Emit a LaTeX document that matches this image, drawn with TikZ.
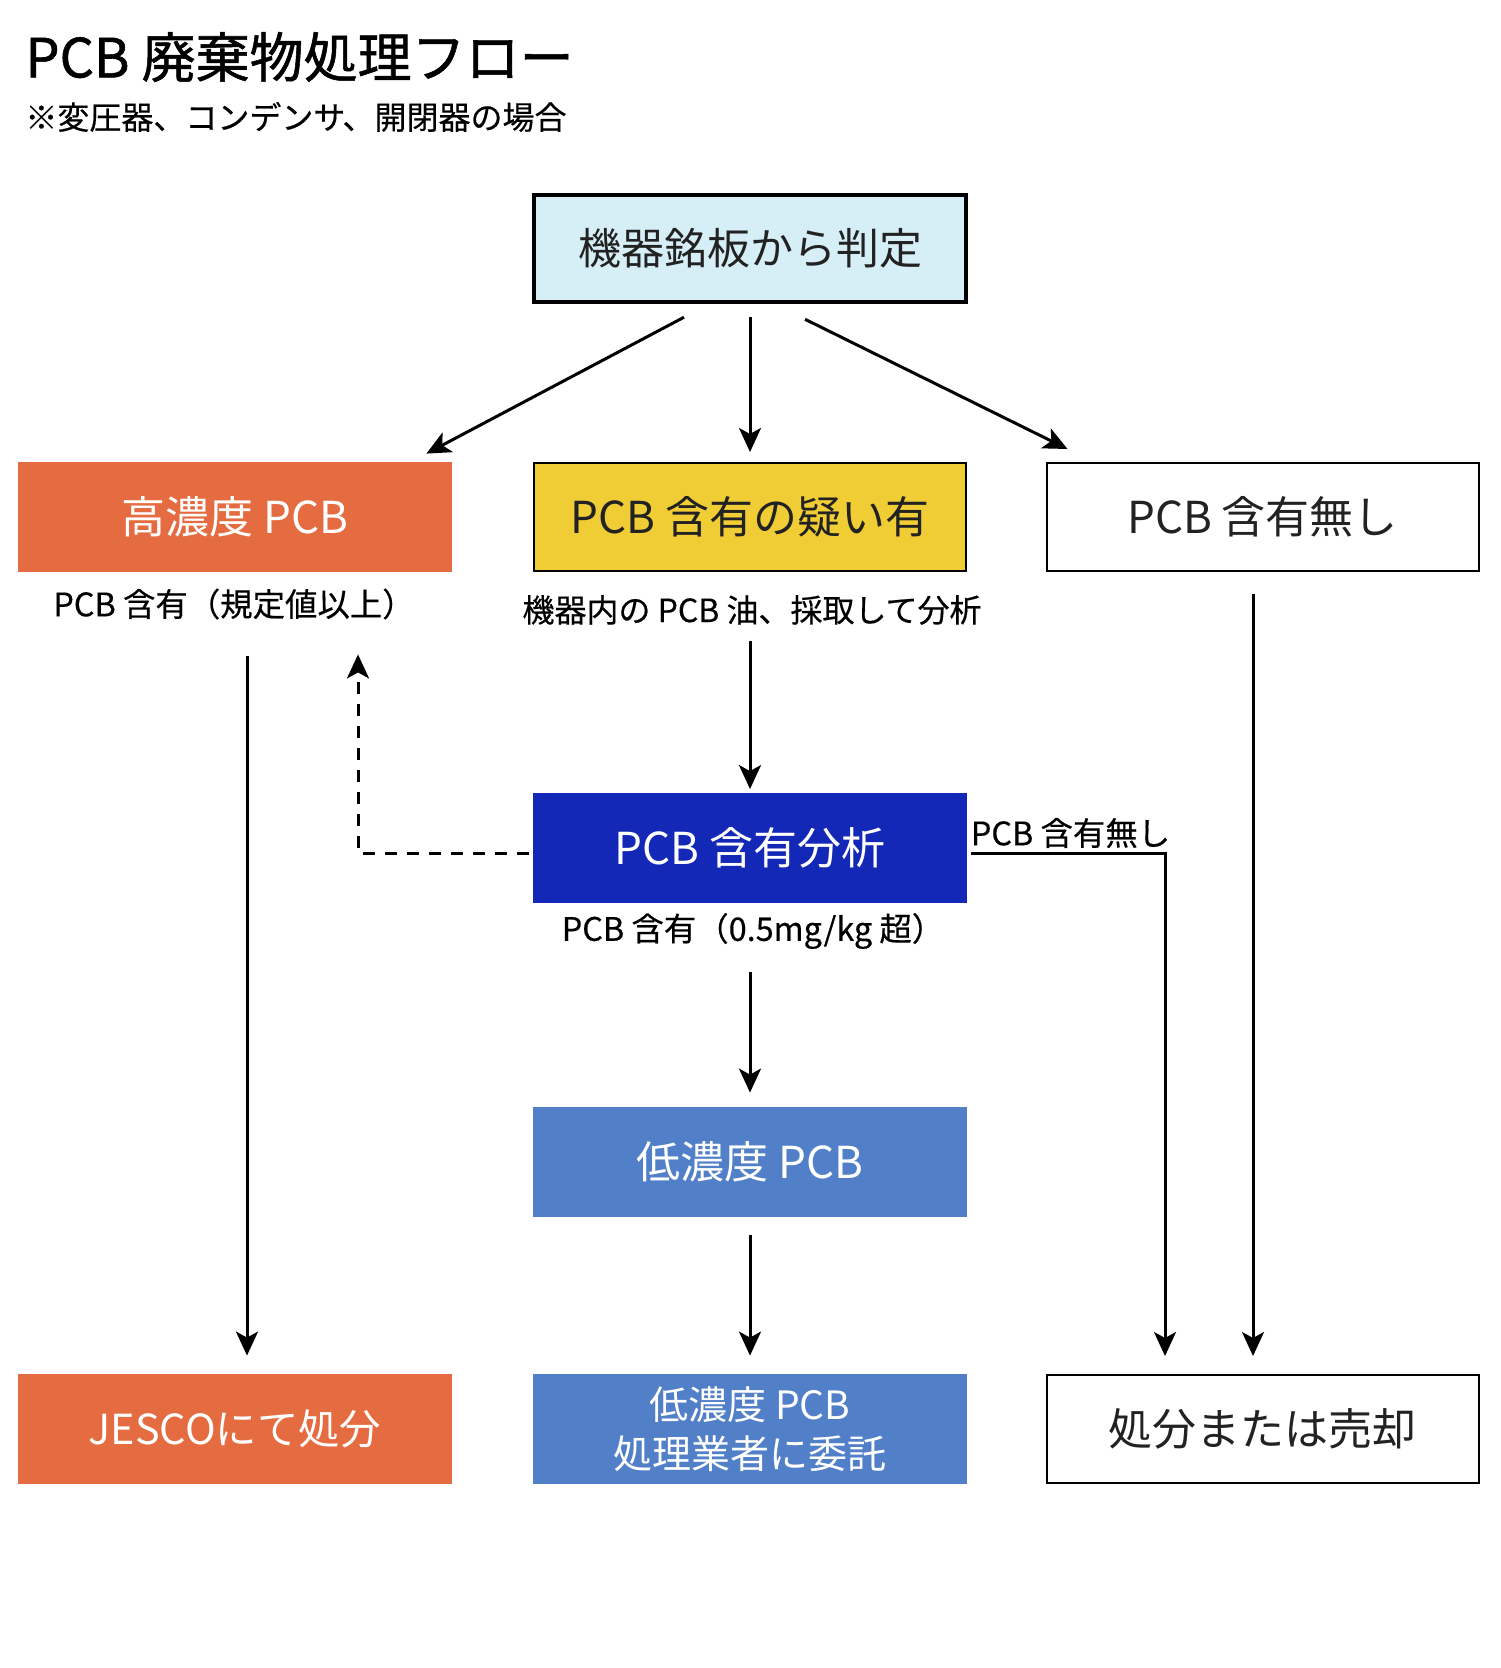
\documentclass[tikz,border=0pt]{standalone}
\usepackage{fontspec}
\setmainfont{Noto Sans CJK JP}
\newfontfamily\titlefont{Noto Sans CJK JP}[FakeBold=1.0]
\newfontfamily\lblfont{Noto Sans CJK JP}[FakeBold=0.4]
\usetikzlibrary{arrows.meta,calc}
\definecolor{pcborange}{HTML}{E56C41}
\definecolor{pcbyellow}{HTML}{F0CD34}
\definecolor{pcbdark}{HTML}{1428B7}
\definecolor{pcbblue}{HTML}{5280C8}
\definecolor{pcbcyan}{HTML}{D6EEF5}
\definecolor{pcbtext}{HTML}{222222}
\begin{document}
\begin{tikzpicture}[x=0.5pt,y=-0.5pt,
  box/.style={rectangle, inner sep=0pt, minimum width=217pt, minimum height=55pt, align=center, font=\fontsize{22pt}{26pt}\selectfont},
  lbl/.style={inner sep=0pt, font=\lblfont\fontsize{16.2pt}{19pt}\selectfont},
  arr/.style={-{Stealth[length=12pt,width=11pt,inset=3pt]}, line width=1.5pt},
  ln/.style={line width=1.5pt}]
\useasboundingbox (0,0) rectangle (1500,1668);

% title
\node[anchor=west, inner sep=0pt, font=\titlefont\fontsize{27pt}{31pt}\selectfont] (title) at (25,57) {PCB 廃棄物処理フロー};
\node[anchor=west, inner sep=0pt, font=\lblfont\fontsize{16pt}{19pt}\selectfont] (subtitle) at (25,117) {※変圧器、コンデンサ、開閉器の場合};

% boxes
\node[box, draw, line width=2.25pt, fill=pcbcyan, text=pcbtext, minimum width=216pt, minimum height=53.5pt, font=\fontsize{21.5pt}{26pt}\selectfont] (top) at (750,248.5) {機器銘板から判定};
\node[box, fill=pcborange, text=white] (high) at (235,517) {高濃度 PCB};
\node[box, draw, line width=1pt, fill=pcbyellow, text=pcbtext, minimum width=216pt, minimum height=54pt] (susp) at (750,517) {PCB 含有の疑い有};
\node[box, draw, line width=1pt, fill=white, text=pcbtext, minimum width=216pt, minimum height=54pt] (none) at (1262.5,517) {PCB 含有無し};
\node[box, fill=pcbdark, text=white] (analysis) at (750,847.5) {PCB 含有分析};
\node[box, fill=pcbblue, text=white] (low) at (750,1162) {低濃度 PCB};
\node[box, fill=pcborange, text=white, font=\fontsize{20.7pt}{25pt}\selectfont] (jesco) at (235,1429) {JESCOにて処分};
\node[box, fill=pcbblue, text=white, font=\fontsize{19.5pt}{24.5pt}\selectfont] (consign) at (750,1429) {低濃度 PCB\\処理業者に委託};
\node[box, draw, line width=1pt, fill=white, text=pcbtext, minimum width=216pt, minimum height=54pt] (sell) at (1262.5,1429) {処分または売却};

% labels
\node[lbl] (lblhigh) at (234,604) {PCB 含有（規定値以上）};
\node[lbl, font=\lblfont\fontsize{16pt}{19pt}\selectfont] (lblsusp) at (752,610) {機器内の PCB 油、採取して分析};
\node[lbl] (lblan) at (753,931) {PCB 含有（0.5mg/kg 超）};
\node[lbl] (lblnone) at (1070.5,833) {PCB 含有無し};

% connectors
\draw[arr] ([xshift=-33pt,yshift=-6.5pt]top.south) -- ([xshift=-13pt,yshift=4pt]high.north east);
\draw[arr] ([yshift=-6.5pt]top.south) -- ([yshift=5pt]susp.north);
\draw[arr] ([xshift=27.5pt,yshift=-7.5pt]top.south) -- ([xshift=11pt,yshift=6.5pt]none.north west);

\draw[arr] ([xshift=6pt,yshift=-42pt]high.south) -- ([xshift=6pt,yshift=9pt]jesco.north);
\draw[arr, dash pattern=on 6pt off 5pt] ([xshift=-2pt,yshift=-2.75pt]analysis.west) -| ([xshift=61.5pt,yshift=-41pt]high.south);

\draw[arr] ([yshift=-34.5pt]susp.south) -- ([yshift=1.5pt]analysis.north);
\draw[arr] ([yshift=-34.5pt]analysis.south) -- ([yshift=7pt]low.north);
\draw[arr] ([yshift=-9pt]low.south) -- ([yshift=9pt]consign.north);

\draw[arr] ([xshift=2pt,yshift=-2.75pt]analysis.east) -| ([xshift=-48.75pt,yshift=9pt]sell.north);
\draw[arr] ([xshift=-4.75pt,yshift=-11pt]none.south) -- ([xshift=-4.75pt,yshift=9pt]sell.north);
\end{tikzpicture}
\end{document}
